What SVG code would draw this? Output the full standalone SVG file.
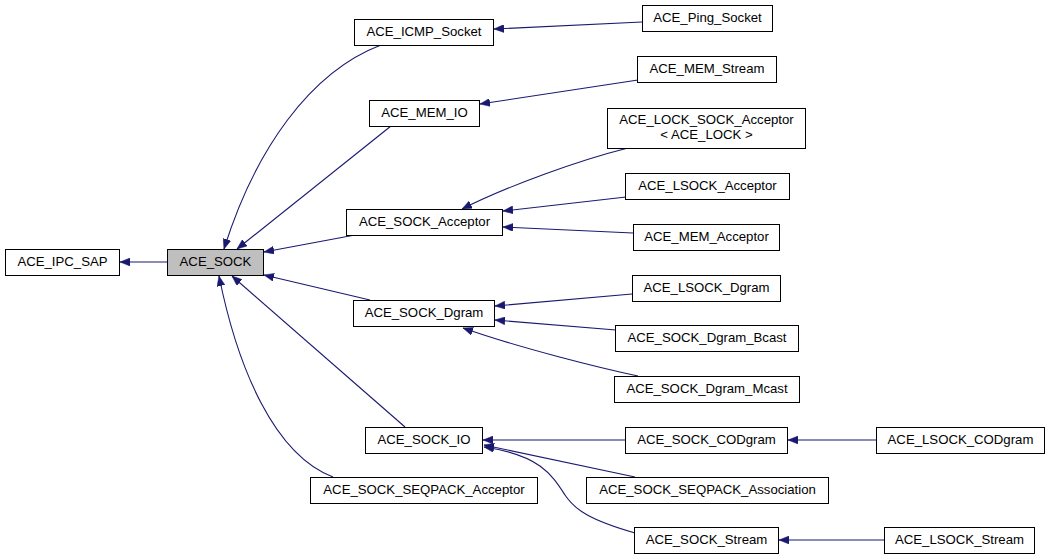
<svg xmlns="http://www.w3.org/2000/svg" width="1049" height="560" viewBox="0 0 1049 560">
<style>
.n rect{fill:#fff;stroke:#000;stroke-width:1}
.n text{font-family:"Liberation Sans",Arial,sans-serif;font-size:13.2px;fill:#000;text-anchor:middle}
#e path{fill:none;stroke:#191970;stroke-width:1.1;marker-end:url(#a)}
</style>
<defs>
<marker id="a" viewBox="0 0 10 8" refX="10" refY="4" markerWidth="10" markerHeight="8" markerUnits="userSpaceOnUse" orient="auto">
<path d="M0,0 L10,4 L0,8 z" fill="#191970" stroke="#191970" stroke-width="0.5"/>
</marker>
</defs>
<rect width="1049" height="560" fill="#fff"/>
<g id="e">
<path d="M167,262 L120,262"/>
<path d="M381,45 C310,72 255,150 224,249"/>
<path d="M391,126 L237,249"/>
<path d="M355,235 L264,252"/>
<path d="M370,300 L264,275"/>
<path d="M405,427 L232,276"/>
<path d="M333,477 C275,455 238,370 219,276"/>
<path d="M642,22 L494,29"/>
<path d="M638,80 L480,104"/>
<path d="M628,148 C580,160 510,185 462,209"/>
<path d="M626,197 L503,211"/>
<path d="M633,233 L503,227"/>
<path d="M632,294 L495,306"/>
<path d="M616,330 L495,320"/>
<path d="M638,376 C600,368 520,348 463,328"/>
<path d="M625,440 L483,440"/>
<path d="M635,477 L484,445"/>
<path d="M635,533 C590,520 575,510 565,495 C552,475 540,455 484,447"/>
<path d="M876,440 L788,440"/>
<path d="M884,540 L779,540"/>
</g>
<g id="n_ipc" class="n"><rect x="5.5" y="249.5" width="114" height="26"/><text x="62.5" y="266">ACE_IPC_SAP</text></g>
<g id="n_sock" class="n"><rect x="167.5" y="249.5" width="96" height="26" style="fill:#bfbfbf"/><text x="215.5" y="266">ACE_SOCK</text></g>
<g id="n_icmp" class="n"><rect x="354.5" y="19.5" width="139" height="26"/><text x="424" y="36">ACE_ICMP_Socket</text></g>
<g id="n_ping" class="n"><rect x="642.5" y="5.5" width="130" height="26"/><text x="707.5" y="22">ACE_Ping_Socket</text></g>
<g id="n_memstream" class="n"><rect x="637.5" y="56.5" width="139" height="26"/><text x="707" y="73">ACE_MEM_Stream</text></g>
<g id="n_memio" class="n"><rect x="369.5" y="100.5" width="110" height="26"/><text x="424.5" y="117">ACE_MEM_IO</text></g>
<g id="n_lock" class="n"><rect x="607.5" y="108.5" width="198" height="40"/><text x="706.5" y="124">ACE_LOCK_SOCK_Acceptor</text><text x="706.5" y="138.5">&lt; ACE_LOCK &gt;</text></g>
<g id="n_lsockacc" class="n"><rect x="625.5" y="173.5" width="164" height="26"/><text x="707.5" y="190">ACE_LSOCK_Acceptor</text></g>
<g id="n_sockacc" class="n"><rect x="346.5" y="209.5" width="156" height="26"/><text x="424.5" y="226">ACE_SOCK_Acceptor</text></g>
<g id="n_memacc" class="n"><rect x="633.5" y="224.5" width="146" height="26"/><text x="706.5" y="241">ACE_MEM_Acceptor</text></g>
<g id="n_lsockdgram" class="n"><rect x="632.5" y="275.5" width="148" height="26"/><text x="706.5" y="292">ACE_LSOCK_Dgram</text></g>
<g id="n_sockdgram" class="n"><rect x="353.5" y="300.5" width="141" height="26"/><text x="424" y="317">ACE_SOCK_Dgram</text></g>
<g id="n_bcast" class="n"><rect x="615.5" y="325.5" width="183" height="26"/><text x="707" y="342">ACE_SOCK_Dgram_Bcast</text></g>
<g id="n_mcast" class="n"><rect x="614.5" y="376.5" width="185" height="26"/><text x="707" y="393">ACE_SOCK_Dgram_Mcast</text></g>
<g id="n_sockio" class="n"><rect x="365.5" y="427.5" width="117" height="26"/><text x="424" y="444">ACE_SOCK_IO</text></g>
<g id="n_codgram" class="n"><rect x="625.5" y="427.5" width="162" height="26"/><text x="706.5" y="444">ACE_SOCK_CODgram</text></g>
<g id="n_lcodgram" class="n"><rect x="876.5" y="427.5" width="168" height="26"/><text x="960.5" y="444">ACE_LSOCK_CODgram</text></g>
<g id="n_seqacc" class="n"><rect x="310.5" y="477.5" width="227" height="26"/><text x="424" y="494">ACE_SOCK_SEQPACK_Acceptor</text></g>
<g id="n_seqassoc" class="n"><rect x="586.5" y="477.5" width="242" height="26"/><text x="707.5" y="494">ACE_SOCK_SEQPACK_Association</text></g>
<g id="n_stream" class="n"><rect x="634.5" y="527.5" width="144" height="26"/><text x="706.5" y="544">ACE_SOCK_Stream</text></g>
<g id="n_lstream" class="n"><rect x="884.5" y="527.5" width="150" height="26"/><text x="959.5" y="544">ACE_LSOCK_Stream</text></g>
</svg>
